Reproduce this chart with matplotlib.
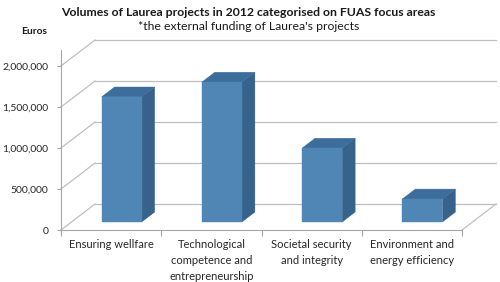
import matplotlib
matplotlib.use("Agg")
import matplotlib.pyplot as plt
from matplotlib.patches import Polygon

plt.rcParams['font.family'] = ['Lato', 'DejaVu Sans']

# --- datos ---
categorias = ["Ensuring wellfare",
              "Technological\ncompetence and\nentrepreneurship",
              "Societal security\nand integrity",
              "Environment and\nenergy efficiency"]
valores = [1525000, 1705000, 900000, 280000]
y_ticks = [0, 500000, 1000000, 1500000, 2000000]

# colores de las caras de la barra
c_frente = '#4F86B6'
c_arriba = '#3D6D9A'
c_lado = '#36628C'
c_grid = '#BFBFBF'

fig = plt.figure(figsize=(5.0, 2.82), dpi=100)
ax = fig.add_axes([61 / 500, 52 / 282, 401 / 500, 180 / 282])
ax.set_xlim(0, len(categorias))
ax.set_ylim(0, 180 / 82 * 1e6)

# profundidad del "3D" en unidades de datos
DX = 34 / 100.25
DY = 26 / 82 * 1e6

# paredes: fondo y lateral izquierda
for v in y_ticks:
    ax.plot([DX, len(categorias) + DX], [v + DY, v + DY], color=c_grid, lw=0.9,
            clip_on=False, zorder=1)
    ax.plot([0, DX], [v, v + DY], color=c_grid, lw=0.9, clip_on=False, zorder=1)
# borde derecho del piso
ax.plot([len(categorias), len(categorias) + DX], [0, DY], color=c_grid, lw=0.9,
        clip_on=False, zorder=1)

# barras 3D (proyeccion oblicua)
ancho = 0.4
f0, f1 = 0.31, 0.69
for i, v in enumerate(valores):
    x0 = i + 0.5 - ancho / 2
    x1 = i + 0.5 + ancho / 2
    ox0, oy0 = f0 * DX, f0 * DY
    ox1, oy1 = f1 * DX, f1 * DY
    frente = [(x0 + ox0, oy0), (x1 + ox0, oy0), (x1 + ox0, v + oy0), (x0 + ox0, v + oy0)]
    arriba = [(x0 + ox0, v + oy0), (x1 + ox0, v + oy0), (x1 + ox1, v + oy1), (x0 + ox1, v + oy1)]
    lado = [(x1 + ox0, oy0), (x1 + ox1, oy1), (x1 + ox1, v + oy1), (x1 + ox0, v + oy0)]
    for pts, col in [(lado, c_lado), (arriba, c_arriba), (frente, c_frente)]:
        ax.add_patch(Polygon(pts, closed=True, facecolor=col, edgecolor=col, lw=0.3,
                             clip_on=False, zorder=3))

# ejes
for s in ['top', 'right']:
    ax.spines[s].set_visible(False)
ax.spines['left'].set_color('#A6A6A6')
ax.spines['bottom'].set_color('#A6A6A6')
ax.set_yticks(y_ticks)
ax.set_yticklabels([f"{v:,}" for v in y_ticks])
ax.set_xticks(range(len(categorias) + 1))
ax.set_xticklabels([])
ax.set_xticks([i + 0.5 for i in range(len(categorias))], categorias, minor=True)
ax.tick_params(axis='y', length=3, color='#A6A6A6', pad=6, labelsize=7.5, labelcolor='#262626')
ax.tick_params(axis='x', which='major', length=4, color='#A6A6A6')
ax.tick_params(axis='x', which='minor', length=0, pad=6.5, labelsize=8.0, labelcolor='#262626')
for lbl in ax.get_xticklabels(minor=True):
    lbl.set_linespacing(1.55)
    lbl.set_verticalalignment('top')
ax.set_facecolor('none')

fig.text(248 / 500, 1 - 12 / 282, "Volumes of Laurea projects in 2012 categorised on FUAS focus areas",
         ha='center', va='center', fontsize=8.8, fontweight='bold', color='#1a1a1a')
fig.text(249 / 500, 1 - 27 / 282, "*the external funding of Laurea's projects",
         ha='center', va='center', fontsize=8.8, color='#1a1a1a')
fig.text(34 / 500, 1 - 32 / 282, "Euros", ha='center', va='center', fontsize=7.4,
         fontweight='bold', color='#1a1a1a')

fig.savefig("out.png", dpi=100)
